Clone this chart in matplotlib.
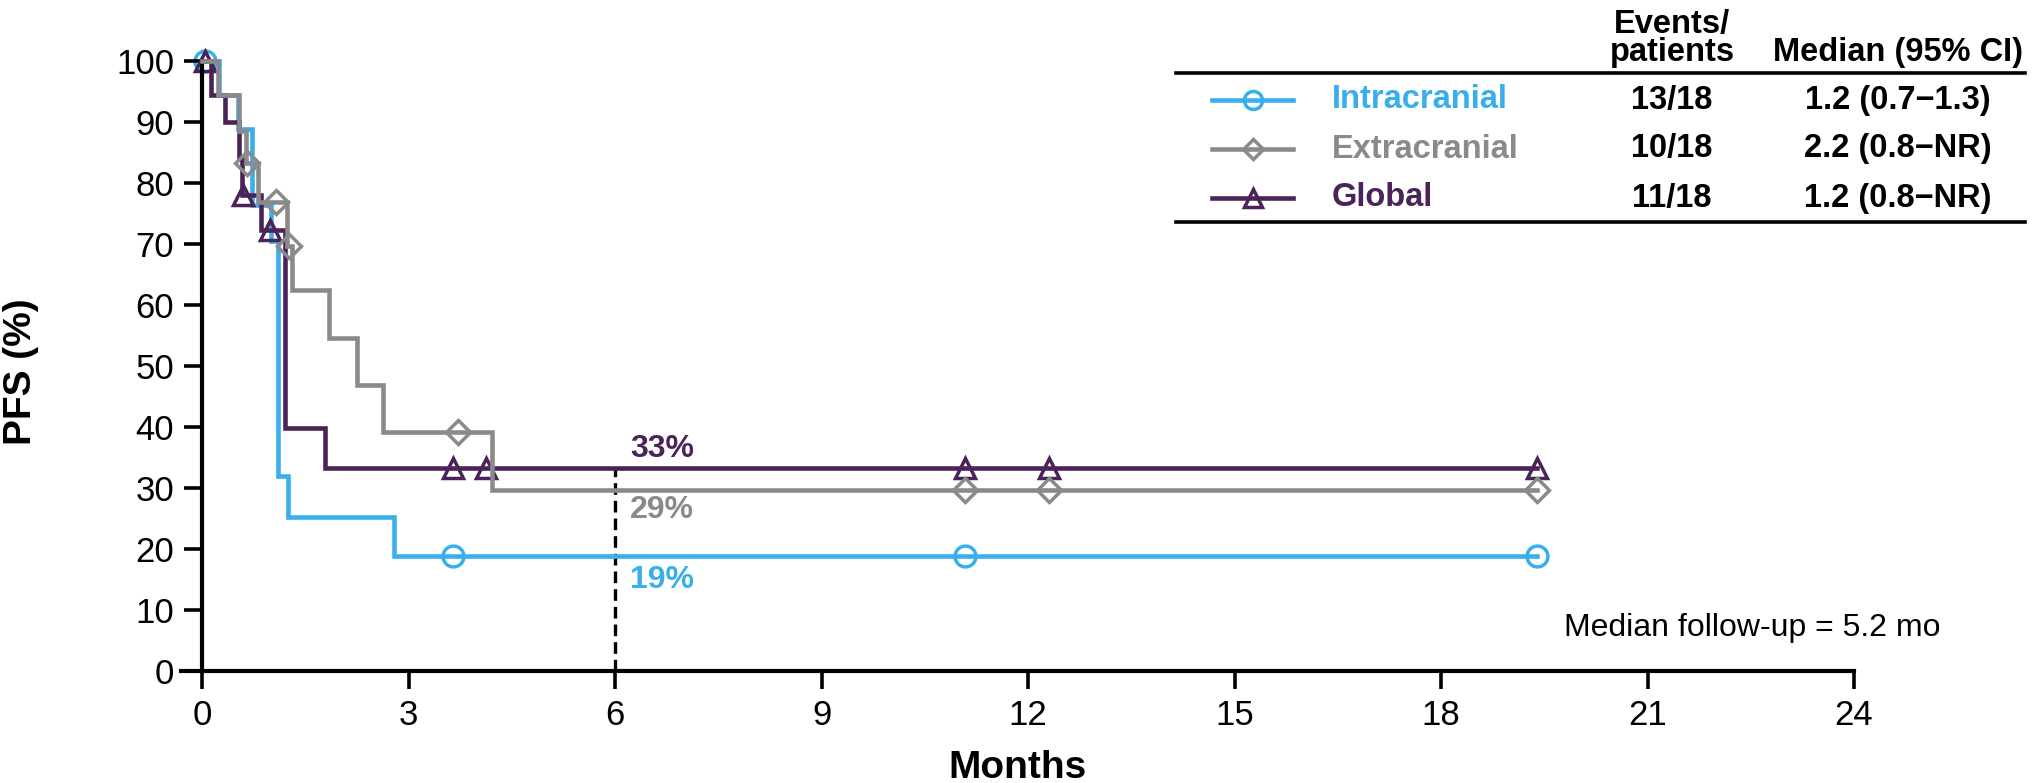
import matplotlib
matplotlib.use("Agg")
import matplotlib.pyplot as plt
from matplotlib.lines import Line2D

plt.rcParams['font.family'] = ['Liberation Sans', 'DejaVu Sans']

# Kaplan-Meier steps: survival (%) from each time (months) onward
intra_t = [0, 0.25, 0.52, 0.72, 1.00, 1.10, 1.25, 2.79]
intra_s = [100, 94.4, 88.9, 76.4, 70.5, 31.9, 25.3, 18.9]
intra_cens_t = [0.04, 3.65, 11.08, 19.4]

extra_t = [0, 0.23, 0.53, 0.64, 0.82, 1.24, 1.30, 1.85, 2.25, 2.63, 4.21]
extra_s = [100, 94.4, 88.6, 83.2, 76.9, 69.6, 62.4, 54.6, 46.9, 39.1, 29.6]
extra_cens_t = [0.66, 1.08, 1.27, 3.72, 11.08, 12.3, 19.4]

glob_t = [0, 0.13, 0.33, 0.53, 0.58, 0.85, 1.21, 1.79]
glob_s = [100, 94.4, 90.0, 84.0, 78.0, 72.3, 39.8, 33.3]
glob_cens_t = [0.04, 0.60, 0.99, 3.65, 4.13, 11.08, 12.3, 19.4]

end_t = 19.4
landmark = 6

names = ['Intracranial', 'Extracranial', 'Global']
events = ['13/18', '10/18', '11/18']
medians = ['1.2 (0.7\u22121.3)', '2.2 (0.8\u2212NR)', '1.2 (0.8\u2212NR)']
pct_labels = ['19%', '29%', '33%']

BLUE = '#3AAEEA'
GRAY = '#8A8A8A'
PURPLE = '#4A2358'

W, H = 2044, 783
fig = plt.figure(figsize=(W / 100, H / 100), dpi=100)
fig.patch.set_facecolor('white')

def fx(px):
    return px / W

def fy(py):
    return 1 - py / H

ax = fig.add_axes([fx(181.4), fy(671), fx(1672.6), 610 / H])
ax.set_xlim(-0.3, 24)
ax.set_ylim(0, 100)


def step_value(ts, ss, t):
    v = ss[0]
    for ti, si in zip(ts, ss):
        if t >= ti:
            v = si
    return v


LW = 3.3
MEW = 2.5
ms = {'o': 15, '^': 15, 'D': 12}
series = [
    (intra_t, intra_s, intra_cens_t, BLUE, 'o', 1),
    (glob_t, glob_s, glob_cens_t, PURPLE, '^', 2),
    (extra_t, extra_s, extra_cens_t, GRAY, 'D', 3),
]
for ts, ss, cens, col, mk, z in series:
    ax.plot(ts + [end_t], ss + [ss[-1]], drawstyle='steps-post', color=col,
            lw=LW, zorder=z, clip_on=False, solid_joinstyle='miter')
    cy = [step_value(ts, ss, t) for t in cens]
    ax.plot(cens, cy, ls='none', marker=mk, ms=ms[mk], mfc='none', mec=col,
            mew=MEW, zorder=z + 0.5, clip_on=False)

# landmark line at 6 months
ax.plot([landmark, landmark], [0, step_value(glob_t, glob_s, landmark)],
        color='black', lw=2.4, ls=(0, (3.5, 1.8)), zorder=0.5)

# percentages at the landmark
ax.text(6.22, 36.4, pct_labels[2], color=PURPLE, fontsize=23, fontweight='bold', va='center')
ax.text(6.22, 26.4, pct_labels[1], color=GRAY, fontsize=23, fontweight='bold', va='center')
ax.text(6.22, 14.9, pct_labels[0], color=BLUE, fontsize=23, fontweight='bold', va='center')

for s in ['top', 'right']:
    ax.spines[s].set_visible(False)
ax.spines['left'].set_position(('data', 0))
for s in ['left', 'bottom']:
    ax.spines[s].set_linewidth(3.0)
ax.set_xticks(range(0, 25, 3))
ax.set_yticks(range(0, 101, 10))
ax.tick_params(direction='out', length=13, width=2.6, labelsize=25, pad=7)
ax.set_xlabel('Months', fontsize=28, fontweight='bold', labelpad=13)
ax.set_ylabel('PFS (%)', fontsize=28, fontweight='bold')
ax.yaxis.set_label_coords((39 - 181.4) / 1672.6, 0.49)

# table-style legend
fig.add_artist(Line2D([fx(1176), fx(2025)], [fy(73), fy(73)], color='black', lw=2.6))
fig.add_artist(Line2D([fx(1176), fx(2025)], [fy(222), fy(222)], color='black', lw=2.6))
fig.text(fx(1672), fy(25), 'Events/', ha='center', va='center', fontsize=23.5, fontweight='bold')
fig.text(fx(1672), fy(52), 'patients', ha='center', va='center', fontsize=23.5, fontweight='bold')
fig.text(fx(1898), fy(52), 'Median (95% CI)', ha='center', va='center', fontsize=23.5, fontweight='bold')

row_y = [100, 149, 198]
cols = [BLUE, GRAY, PURPLE]
marks = ['o', 'D', '^']
for i in range(3):
    y = fy(row_y[i])
    fig.add_artist(Line2D([fx(1212), fx(1252.5), fx(1293)], [y, y, y], color=cols[i], lw=LW,
                          marker=marks[i], markevery=[1], ms=ms[marks[i]] - 2,
                          mfc='none', mec=cols[i], mew=MEW))
    fig.text(fx(1332), y, names[i], color=cols[i], ha='left', va='center',
             fontsize=23.5, fontweight='bold')
    fig.text(fx(1672), y, events[i], ha='center', va='center', fontsize=23.5, fontweight='bold')
    fig.text(fx(1898), y, medians[i], ha='center', va='center', fontsize=23.5, fontweight='bold')

fig.text(fx(1564), fy(628), 'Median follow-up = 5.2 mo', ha='left', va='center', fontsize=23)

fig.savefig('out.png', dpi=100)
